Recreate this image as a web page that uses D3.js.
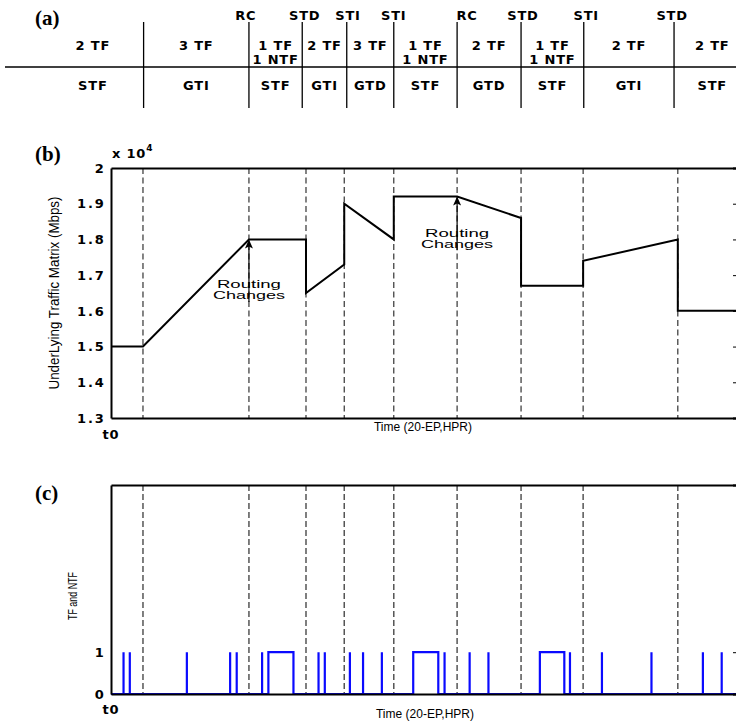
<!DOCTYPE html>
<html><head><meta charset="utf-8">
<script src="https://cdn.jsdelivr.net/npm/d3@7/dist/d3.min.js"></script>
<style>
html,body{margin:0;padding:0;background:#fff;}
svg{display:block;}
.b{font-family:"DejaVu Sans",Verdana,sans-serif;font-weight:bold;font-size:13px;letter-spacing:0.8px;}
</style></head>
<body>
<script>
// ---------- DATA ----------
// panel (a): segment boundaries (time units), labels
const segBounds = [-11, 5.2, 22.0, 30.5, 37.6, 45.1, 55.2, 65.4, 75.4, 89.8, 102];
const tfLabels = [["2 TF"],["3 TF"],["1 TF","1 NTF"],["2 TF"],["3 TF"],["1 TF","1 NTF"],["2 TF"],["1 TF","1 NTF"],["2 TF"],["2 TF"]];
const classLabels = ["STF","GTI","STF","GTI","GTD","STF","GTD","STF","GTI","STF"];
const eventNames = ["RC","STD","STI","STI","RC","STD","STI","STD"];
const eventTimes = [21.5, 30.9, 37.8, 45.1, 56.8, 65.7, 75.8, 89.5];
// change instants (dashed lines)
const changeTimes = [5.1, 22.0, 31.1, 37.2, 45.1, 55.2, 65.4, 75.3, 90.4];
// panel (b): underlying traffic matrix (x 10^4 Mbps)
const trafficT = [0, 5.1, 22.0, 31.1, 31.1, 37.2, 37.2, 45.1, 45.1, 55.2, 65.4, 65.4, 75.3, 75.3, 90.4, 90.4, 100];
const trafficV = [1.5, 1.5, 1.8, 1.8, 1.65, 1.73, 1.90, 1.80, 1.92, 1.92, 1.86, 1.67, 1.67, 1.74, 1.80, 1.60, 1.60];
const bTicks = [1.3, 1.4, 1.5, 1.6, 1.7, 1.8, 1.9, 2];
const bTickLabels = ["1.3","1.4","1.5","1.6","1.7","1.8","1.9","2"];
// routing change annotations
const routingT = [22.0, 55.2];
const routingHead = [1.8, 1.92];
const routingTail = [1.625, 1.77];
// panel (c): TF / NTF pulses (start, end)
const pulseStart = [2.0, 3.0, 12.1, 19.0, 20.05, 24.1, 25.1, 33.1, 34.1, 38.1, 40.2, 43.2, 48.2, 53.2, 57.2, 60.2, 68.4, 73.2, 78.3, 86.2, 94.4, 97.4];
const pulseEnd   = [2.0, 3.0, 12.1, 19.0, 20.05, 24.1, 29.1, 33.1, 34.1, 38.1, 40.2, 43.2, 52.2, 53.2, 57.2, 60.2, 72.3, 73.2, 78.3, 86.2, 94.4, 97.4];
const cTicks = [0, 1];
const cTickLabels = ["0","1"];

// ---------- DRAW ----------
const W = 736, H = 724;
const svg = d3.select("body").append("svg").attr("width", W).attr("height", H);
const x = d3.scaleLinear().domain([0, 100]).range([111, 738]);

// ---- (a) ----
svg.append("text").attr("x", 35).attr("y", 25)
  .style("font-family", "'Liberation Serif','Times New Roman',serif").style("font-weight", "bold").style("font-size", "21px")
  .text("(a)");
svg.append("line").attr("x1", 5).attr("x2", 736).attr("y1", 67).attr("y2", 67)
  .attr("stroke", "#000").attr("stroke-width", 1.3);
svg.selectAll(".segline").data(segBounds.slice(1, -1)).enter().append("line")
  .attr("x1", d => x(d)).attr("x2", d => x(d)).attr("y1", 22).attr("y2", 108)
  .attr("stroke", "#000").attr("stroke-width", 1.3);
const segMid = i => x((segBounds[i] + segBounds[i + 1]) / 2);
tfLabels.forEach((lines, i) => {
  lines.forEach((t, j) => {
    svg.append("text").attr("class", "b").attr("x", segMid(i)).attr("y", 49.5 + j * 14)
      .attr("text-anchor", "middle").text(t);
  });
  svg.append("text").attr("class", "b").attr("x", segMid(i)).attr("y", 90)
    .attr("text-anchor", "middle").text(classLabels[i]);
});
eventNames.forEach((t, i) => {
  svg.append("text").attr("class", "b").attr("x", x(eventTimes[i])).attr("y", 20)
    .attr("text-anchor", "middle").text(t);
});

// ---- (b) ----
const yb = d3.scaleLinear().domain([1.3, 2]).range([418, 168]);
svg.append("text").attr("x", 35).attr("y", 161)
  .style("font-family", "'Liberation Serif','Times New Roman',serif").style("font-weight", "bold").style("font-size", "21px")
  .text("(b)");
const gb = svg.append("g");
gb.selectAll(".dash").data(changeTimes).enter().append("line")
  .attr("x1", d => x(d)).attr("x2", d => x(d)).attr("y1", yb(2)).attr("y2", yb(1.3))
  .attr("stroke", "#333").attr("stroke-width", 1.2).attr("stroke-dasharray", "6,3.5");
const trafficPts = trafficT.map((t, i) => [t, trafficV[i]]);
gb.append("path").datum(trafficPts)
  .attr("d", d3.line().x(d => x(d[0])).y(d => yb(d[1])))
  .attr("fill", "none").attr("stroke", "#000").attr("stroke-width", 2);
// axes
const axL = gb.append("g").attr("transform", "translate(111,0)")
  .call(d3.axisLeft(yb).tickValues(bTicks).tickSize(0).tickPadding(7).tickFormat((d, i) => bTickLabels[i]));
axL.select(".domain").attr("stroke-width", 2);
axL.selectAll("text").attr("class", "b").attr("dx", "1.5").style("letter-spacing", "1.8px").attr("fill", "#000");
const axR = gb.append("g").attr("transform", "translate(738,0)")
  .call(d3.axisLeft(yb).tickValues(bTicks).tickSize(5).tickFormat(""));
axR.selectAll("line").attr("stroke-width", 1);
axR.select(".domain").attr("stroke-width", 2);
gb.append("g").attr("transform", "translate(0,168)")
  .call(d3.axisBottom(x).tickValues([]).tickSizeOuter(0)).select(".domain").attr("stroke-width", 2);
gb.append("g").attr("transform", "translate(0,418)")
  .call(d3.axisBottom(x).tickValues([]).tickSizeOuter(0)).select(".domain").attr("stroke-width", 2);
// x 10^4
const mult = gb.append("text").attr("class", "b").attr("x", 112).attr("y", 158);
mult.append("tspan").text("x 10");
mult.append("tspan").attr("dy", -7).style("font-size", "9px").text("4");
gb.append("text").attr("class", "b").attr("x", 111).attr("y", 439).attr("text-anchor", "middle").text("t0");
gb.append("text").attr("x", 423).attr("y", 431).attr("text-anchor", "middle")
  .style("font-family", "'Liberation Sans',Arial,sans-serif").style("font-size", "12px").text("Time (20-EP,HPR)");
gb.append("text").attr("transform", "translate(59,293) rotate(-90)").attr("text-anchor", "middle")
  .style("font-family", "'Liberation Sans',Arial,sans-serif").style("font-size", "15px")
  .attr("textLength", 193).attr("lengthAdjust", "spacingAndGlyphs")
  .text("UnderLying Traffic Matrix (Mbps)");
// routing annotations
routingT.forEach((t, i) => {
  const xx = x(t), yh = yb(routingHead[i]), yt = yb(routingTail[i]);
  gb.append("line").attr("x1", xx).attr("x2", xx).attr("y1", yt).attr("y2", yh + 2)
    .attr("stroke", "#000").attr("stroke-width", 1.2);
  gb.append("path").attr("d", `M${xx},${yh} L${xx - 4},${yh + 9} L${xx},${yh + 7} L${xx + 4},${yh + 9} Z`)
    .attr("fill", "#000");
  ["Routing", "Changes"].forEach((s, j) => {
    gb.append("text").attr("x", xx).attr("y", yt - 13.5 + j * 11).attr("text-anchor", "middle")
      .style("font-family", "'Liberation Sans',Arial,sans-serif").style("font-size", "11px")
      .attr("textLength", j === 0 ? 64 : 72).attr("lengthAdjust", "spacingAndGlyphs").text(s);
  });
});

// ---- (c) ----
const yc = d3.scaleLinear().domain([0, 5]).range([694, 485]);
svg.append("text").attr("x", 35).attr("y", 500)
  .style("font-family", "'Liberation Serif','Times New Roman',serif").style("font-weight", "bold").style("font-size", "21px")
  .text("(c)");
const gc = svg.append("g");
gc.selectAll(".dash").data(changeTimes).enter().append("line")
  .attr("x1", d => x(d)).attr("x2", d => x(d)).attr("y1", yc(5)).attr("y2", yc(0))
  .attr("stroke", "#555").attr("stroke-width", 1.5).attr("stroke-dasharray", "6,3");
const pulsePts = [[0, 0]];
pulseStart.forEach((s, i) => {
  pulsePts.push([s, 0], [s, 1], [pulseEnd[i], 1], [pulseEnd[i], 0]);
});
pulsePts.push([100, 0]);
gc.append("path").datum(pulsePts)
  .attr("d", d3.line().x(d => x(d[0])).y(d => yc(d[1])))
  .attr("fill", "none").attr("stroke", "#0a0aff").attr("stroke-width", 2.2).attr("stroke-linejoin", "miter");
const cL = gc.append("g").attr("transform", "translate(111,0)")
  .call(d3.axisLeft(yc).tickValues(cTicks).tickSize(0).tickPadding(7).tickFormat((d, i) => cTickLabels[i]));
cL.select(".domain").attr("stroke-width", 2);
cL.selectAll("text").attr("class", "b").attr("dx", "1.5").style("letter-spacing", "1.8px").attr("fill", "#000");
const cR = gc.append("g").attr("transform", "translate(738,0)")
  .call(d3.axisLeft(yc).tickValues(cTicks).tickSize(5).tickFormat(""));
cR.select(".domain").attr("stroke-width", 2);
gc.append("g").attr("transform", "translate(0,485)")
  .call(d3.axisBottom(x).tickValues([]).tickSizeOuter(0)).select(".domain").attr("stroke-width", 2);
gc.append("g").attr("transform", "translate(0,694)")
  .call(d3.axisBottom(x).tickValues([]).tickSizeOuter(0)).select(".domain").attr("stroke-width", 2);
gc.append("text").attr("class", "b").attr("x", 111).attr("y", 713.5).attr("text-anchor", "middle").text("t0");
gc.append("text").attr("x", 425).attr("y", 718).attr("text-anchor", "middle")
  .style("font-family", "'Liberation Sans',Arial,sans-serif").style("font-size", "12px").text("Time (20-EP,HPR)");
gc.append("text").attr("transform", "translate(77,596) rotate(-90)").attr("text-anchor", "middle")
  .style("font-family", "'Liberation Sans',Arial,sans-serif").style("font-size", "12px")
  .attr("textLength", 48).attr("lengthAdjust", "spacingAndGlyphs").text("TF and NTF");
</script>
</body></html>
